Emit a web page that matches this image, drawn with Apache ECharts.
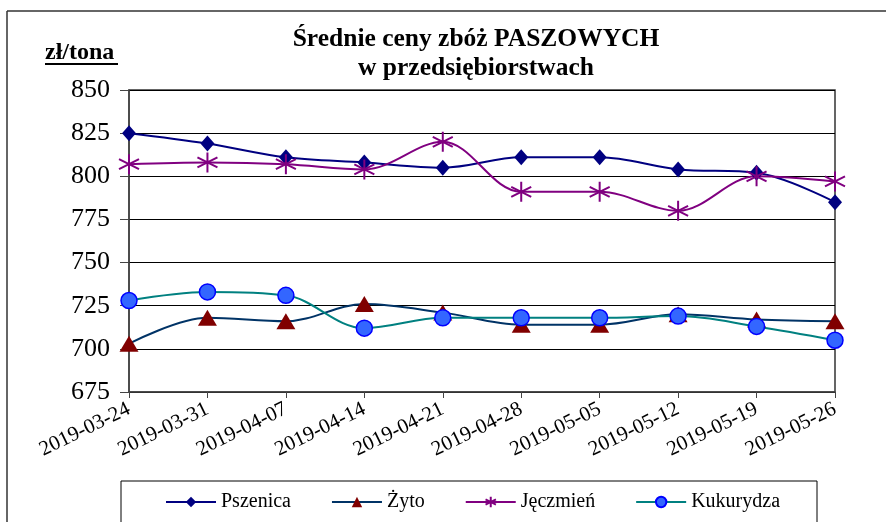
<!DOCTYPE html>
<html><head><meta charset="utf-8">
<script src="https://cdn.jsdelivr.net/npm/echarts@6/dist/echarts.min.js"></script>
<style>html,body{margin:0;padding:0;background:#fff}#c{width:886px;height:522px}</style>
</head><body><div id="c"></div>
<script>
const categories = ['2019-03-24','2019-03-31','2019-04-07','2019-04-14','2019-04-21','2019-04-28','2019-05-05','2019-05-12','2019-05-19','2019-05-26'];
const pszenica  = [825, 819, 811, 808, 805, 811, 811, 804, 802, 785];
const zyto      = [703, 718, 716, 726, 721, 714, 714, 720, 717, 716];
const jeczmien  = [807, 808, 807, 804, 820, 791, 791, 780, 800, 797];
const kukurydza = [728, 733, 731, 712, 718, 718, 718, 719, 713, 705];
const yTicks = [675, 700, 725, 750, 775, 800, 825, 850];
const titleText = 'Średnie ceny zbóż PASZOWYCH\nw przedsiębiorstwach';
const unitText = 'zł/tona';

const serif = "'Liberation Serif', 'Times New Roman', serif";
const star = 'path://M10,0 L10,20 M1,5 L19,15 M1,15 L19,5';
const chart = echarts.init(document.getElementById('c'), null, {renderer: 'canvas'});
function mk(name, data, lineColor, symbol, size, itemStyle) {
  return {
    name, type: 'line', data, smooth: 0.35, symbol, symbolSize: size,
    lineStyle: {color: lineColor, width: 2},
    itemStyle: itemStyle,
    emphasis: {disabled: true}, animation: false
  };
}
chart.setOption({
  animation: false,
  textStyle: {fontFamily: serif},
  grid: {left: 129, right: 51, top: 90, bottom: 130, show: true, borderColor: '#333', borderWidth: 1.5, backgroundColor: 'transparent'},
  xAxis: {
    type: 'category', data: categories, boundaryGap: false,
    axisLine: {lineStyle: {color: '#444', width: 1.5}},
    axisTick: {show: true, length: 6, lineStyle: {color: '#444', width: 1}},
    axisLabel: {rotate: 26, margin: 16, color: '#000', fontFamily: serif, fontSize: 21},
    splitLine: {show: false}
  },
  yAxis: {
    type: 'value', min: yTicks[0], max: yTicks[yTicks.length - 1], interval: 25,
    axisLine: {show: true, lineStyle: {color: '#444', width: 1.5}},
    axisTick: {show: true, length: 9, lineStyle: {color: '#444'}},
    axisLabel: {margin: 19, color: '#000', fontFamily: serif, fontSize: 26},
    splitLine: {show: true, lineStyle: {color: '#000', width: 1}}
  },
  legend: {
    left: 121, top: 481, orient: 'horizontal',
    itemWidth: 50, itemHeight: 13, itemGap: 40,
    padding: [11, 37, 40, 44],
    borderColor: '#000', borderWidth: 1,
    textStyle: {fontFamily: serif, fontSize: 20, color: '#000'},
    data: ['Pszenica', 'Żyto', 'Jęczmień', 'Kukurydza']
  },
  series: [
    mk('Pszenica', pszenica, '#000080', 'diamond', [14, 16], {color: '#000080'}),
    mk('Żyto', zyto, '#003366', 'triangle', [19, 16], {color: '#800000'}),
    mk('Jęczmień', jeczmien, '#800080', star, 20, {color: 'transparent', borderColor: '#800080', borderWidth: 2}),
    mk('Kukurydza', kukurydza, '#008080', 'circle', 16, {color: '#3366FF', borderColor: '#0000FF', borderWidth: 1.5})
  ],
  graphic: [
    {type: 'line', shape: {x1: 7, y1: 11, x2: 886, y2: 11}, style: {stroke: '#333', lineWidth: 1.5}, silent: true},
    {type: 'line', shape: {x1: 7, y1: 11, x2: 7, y2: 522}, style: {stroke: '#333', lineWidth: 1.5}, silent: true},
    {type: 'text', style: {text: titleText, x: 476, y: 25, align: 'center', verticalAlign: 'top', fontFamily: serif, fontWeight: 'bold', fontSize: 25.5, lineHeight: 29, fill: '#000'}, silent: true},
    {type: 'text', style: {text: unitText, x: 45, y: 41, align: 'left', verticalAlign: 'top', fontFamily: serif, fontWeight: 'bold', fontSize: 24, fill: '#000'}, silent: true},
    {type: 'line', shape: {x1: 45, y1: 64, x2: 118, y2: 64}, style: {stroke: '#000', lineWidth: 2}, silent: true}
  ]
});
</script></body></html>
